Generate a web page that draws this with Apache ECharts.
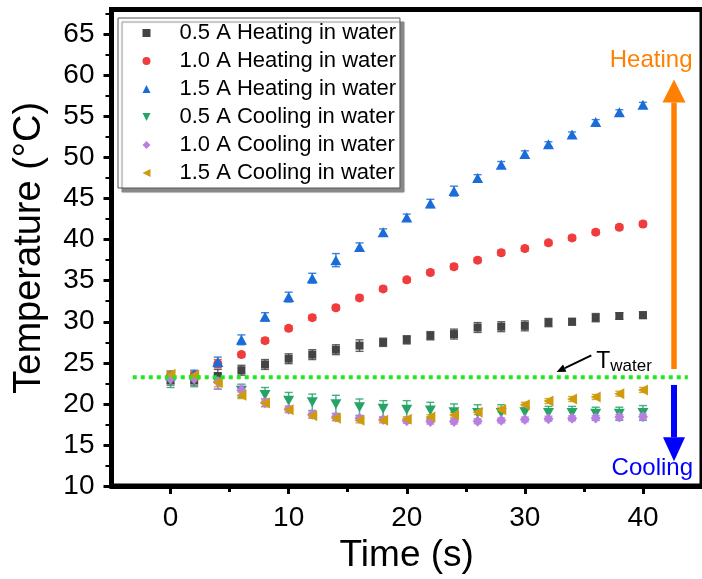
<!DOCTYPE html>
<html><head><meta charset="utf-8">
<script src="https://cdn.jsdelivr.net/npm/echarts@6/dist/echarts.min.js"></script>
<style>html,body{margin:0;padding:0;background:#fff}#c{width:702px;height:579px}</style>
</head><body><div id="c"></div>
<script>
// ---------- data ----------
const time = [0,2,4,6,8,10,12,14,16,18,20,22,24,26,28,30,32,34,36,38,40];
const seriesNames = ['0.5 A Heating in water','1.0 A Heating in water','1.5 A Heating in water',
                     '0.5 A Cooling in water','1.0 A Cooling in water','1.5 A Cooling in water'];
const heat05 = [22.9,22.9,23.4,24.1,24.8,25.5,26.0,26.6,27.1,27.5,27.8,28.3,28.5,29.3,29.4,29.5,29.9,30.0,30.5,30.7,30.8];
const heat10 = [23.4,23.5,24.9,26.0,27.7,29.2,30.5,31.7,32.9,34.0,35.1,36.0,36.7,37.5,38.4,38.9,39.6,40.2,40.9,41.5,41.9];
const heat15 = [23.5,23.6,25.1,27.8,30.6,33.0,35.3,37.5,39.1,40.9,42.7,44.4,45.9,47.5,49.1,50.4,51.6,52.8,54.3,55.5,56.4];
const cool05 = [22.8,22.9,22.7,21.6,21.1,20.4,20.2,19.95,19.6,19.4,19.3,19.2,19.0,18.9,18.9,19.0,18.9,18.9,18.8,18.8,18.9];
const cool10 = [23.05,23.05,22.7,21.65,20.15,19.35,18.75,18.4,18.25,18.1,17.95,17.85,17.85,17.9,18.0,18.1,18.2,18.25,18.3,18.4,18.45];
const cool15 = [23.6,23.5,22.6,21.05,20.1,19.3,18.55,18.25,18.0,18.0,18.15,18.4,18.65,19.0,19.3,19.9,20.35,20.6,20.85,21.25,21.7];
const err05h = [0.6,0.6,0.8,0.6,0.6,0.6,0.6,0.6,0.7,0.5,0.5,0.5,0.6,0.6,0.6,0.6,0.5,0.4,0.5,0.4,0.4];
const err10h = [0.4,0.4,0.5,0.3,0.3,0.3,0.3,0.3,0.3,0.3,0.3,0.3,0.3,0.3,0.3,0.3,0.3,0.3,0.3,0.3,0.3];
const err15h = [0.5,0.5,0.6,0.6,0.5,0.6,0.6,0.8,0.5,0.4,0.4,0.5,0.6,0.4,0.4,0.4,0.3,0.3,0.3,0.3,0.3];
const err05c = [0.8,0.8,0.9,0.8,0.9,1.0,1.0,1.1,1.0,1.0,1.1,1.0,1.0,1.0,1.0,0.9,0.8,0.8,0.8,0.8,0.9];
const err10c = [0.6,0.6,0.9,0.7,0.5,0.4,0.4,0.4,0.3,0.3,0.3,0.3,0.3,0.3,0.3,0.3,0.3,0.3,0.3,0.3,0.3];
const err15c = [0.4,0.4,0.5,0.4,0.4,0.3,0.3,0.3,0.3,0.3,0.3,0.3,0.3,0.3,0.3,0.3,0.3,0.3,0.3,0.3,0.3];
const xTickValues = [0,10,20,30,40];
const xMinorValues = [5,15,25,35];
const yTickValues = [10,15,20,25,30,35,40,45,50,55,60,65];
const yMinorValues = [12.5,17.5,22.5,27.5,32.5,37.5,42.5,47.5,52.5,57.5,62.5,67.5];
const tWater = 23.25;
const tWaterSpan = [-3.2, 43.8];
const arrowX = 42.63;
const heatingArrow = [24.24, 59.49];
const coolingArrow = [22.31, 13.02];
const pointerFrom = [35.63, 25.9];
const pointerTo = [32.69, 23.88];
const heatingLabel = 'Heating';
const coolingLabel = 'Cooling';
const tLabel = 'T';
const tSubLabel = 'water';

// ---------- styling ----------
const FONT = '"Liberation Sans", Arial, sans-serif';
const colors = ['#444444','#f03c3c','#1a6cd8','#26a366','#b87fe0','#cf9a0c'];
const symbols = ['rect','circle','triangle','triangle','diamond','triangle'];
const legendIcons = ['rect','circle','triangle','path://M0,0 L10,0 L5,10 Z','diamond','path://M10,0 L10,10 L0,5 Z'];
const rotates = [0,0,0,180,0,90];
const sizes = [8,9,[11,10],[11,10],[10,11],[11,10]];
const values = [heat05,heat10,heat15,cool05,cool10,cool15];
const errs = [err05h,err10h,err15h,err05c,err10c,err15c];

function errSeries(idx){
  const color = colors[idx];
  return {
    type:'custom', name:'err'+idx, xAxisIndex:0, yAxisIndex:0, z:2, silent:true,
    data: time.map((t,i)=>[t, values[idx][i], errs[idx][i]]),
    encode:{x:0,y:1},
    renderItem(params, api){
      const x=api.value(0), y=api.value(1), e=api.value(2);
      const a=api.coord([x,y+e]), b=api.coord([x,y-e]);
      const hw=4, st={stroke:color, lineWidth:1.4, opacity:0.85};
      return {type:'group', children:[
        {type:'line', shape:{x1:a[0],y1:a[1],x2:b[0],y2:b[1]}, style:st},
        {type:'line', shape:{x1:a[0]-hw,y1:a[1],x2:a[0]+hw,y2:a[1]}, style:st},
        {type:'line', shape:{x1:b[0]-hw,y1:b[1],x2:b[0]+hw,y2:b[1]}, style:st}
      ]};
    }
  };
}
function scatterSeries(idx){
  return {
    type:'scatter', name:seriesNames[idx], xAxisIndex:0, yAxisIndex:0, z:3,
    symbol:symbols[idx], symbolRotate:rotates[idx], symbolSize:sizes[idx],
    itemStyle:{color:colors[idx], opacity:1},
    data: time.map((t,i)=>[t, values[idx][i]])
  };
}
function arrowShapes(tail, tip, shaftW, headW, headL, color){
  const dx=tip[0]-tail[0], dy=tip[1]-tail[1], L=Math.hypot(dx,dy);
  const ux=dx/L, uy=dy/L, px=-uy, py=ux;
  const bx=tip[0]-ux*headL, by=tip[1]-uy*headL;
  const sw=shaftW/2, hw=headW/2;
  return [
    {type:'polygon', shape:{points:[[tail[0]+px*sw,tail[1]+py*sw],[bx+px*sw,by+py*sw],[bx-px*sw,by-py*sw],[tail[0]-px*sw,tail[1]-py*sw]]}, style:{fill:color}},
    {type:'polygon', shape:{points:[[tip[0],tip[1]],[bx+px*hw,by+py*hw],[bx-px*hw,by-py*hw]]}, style:{fill:color}}
  ];
}
const annotationSeries = {
  type:'custom', name:'annotations', xAxisIndex:0, yAxisIndex:0, z:5, silent:true,
  data:[[arrowX, tWater]], encode:{x:0,y:1},
  renderItem(params, api){
    const hT=api.coord([arrowX,heatingArrow[0]]), hP=api.coord([arrowX,heatingArrow[1]]);
    const cT=api.coord([arrowX,coolingArrow[0]]), cP=api.coord([arrowX,coolingArrow[1]]);
    const pF=api.coord(pointerFrom), pT=api.coord(pointerTo);
    const kids = [].concat(
      arrowShapes(hT,hP,5.5,23,23,'#ff8000'),
      arrowShapes(cT,cP,6,22,24,'#0000ff'),
      arrowShapes(pF,pT,2,8,9,'#000000'),
      [
        {type:'text', x:hP[0]+18.5, y:hP[1]-19, style:{text:heatingLabel, fill:'#ff8000', font:'24px '+FONT, align:'right', verticalAlign:'middle'}},
        {type:'text', x:cP[0]+19, y:cP[1]+7, style:{text:coolingLabel, fill:'#0000ff', font:'24px '+FONT, align:'right', verticalAlign:'middle'}},
        {type:'text', x:pF[0]+5, y:pF[1]-5, style:{text:tLabel, fill:'#000', font:'23px '+FONT, align:'left', verticalAlign:'alphabetic'}},
        {type:'text', x:pF[0]+19, y:pF[1]+2.5, style:{text:tSubLabel, fill:'#000', font:'17px '+FONT, align:'left', verticalAlign:'alphabetic'}}
      ]);
    return {type:'group', children:kids};
  }
};
const waterLine = {
  type:'line', name:'Twater', xAxisIndex:0, yAxisIndex:0, z:4, silent:true,
  symbol:'none', data:[[tWaterSpan[0], tWater],[tWaterSpan[1], tWater]],
  lineStyle:{color:'#22e622', width:4, type:[4,4]}
};

const series = [];
for (let i=0;i<6;i++) series.push(errSeries(i));
for (let i=0;i<6;i++) series.push(scatterSeries(i));
series.push(waterLine, annotationSeries);

const axisTextStyle = {fontFamily:FONT, fontSize:28, color:'#000'};
const chart = echarts.init(document.getElementById('c'), null, {renderer:'canvas'});
chart.setOption({
  animation:false,
  backgroundColor:'#fff',
  grid:{left:111.5, right:-4.5, top:9.5, bottom:89, show:true, borderColor:'#000', borderWidth:5, backgroundColor:'transparent'},
  legend:{
    data:seriesNames.map((n,i)=>({name:n, icon:legendIcons[i]})), orient:'vertical', left:118, top:18,
    itemWidth:8, itemHeight:8, itemGap:6, padding:[4,4,4,24.5],
    symbolKeepAspect:true, symbolRotate:0,
    backgroundColor:'#fff', borderColor:'#555', borderWidth:1,
    shadowColor:'#888', shadowBlur:1, shadowOffsetX:4, shadowOffsetY:4,
    textStyle:{fontFamily:FONT, fontSize:22, color:'#000', lineHeight:22, padding:[0,0,0,24]},
    selectedMode:false, z:10
  },
  xAxis:[{
    type:'value', min:-5, max:45, position:'bottom',
    name:'Time (s)', nameLocation:'middle', nameGap:46,
    nameTextStyle:{fontFamily:FONT, fontSize:37, color:'#000'},
    axisLine:{show:true, onZero:false, lineStyle:{color:'#000', width:5}},
    axisTick:{show:true, inside:false, length:8, lineStyle:{color:'#000', width:3}, customValues:xTickValues},
    axisLabel:Object.assign({margin:18, customValues:xTickValues}, axisTextStyle),
    splitLine:{show:false}
  },{
    type:'value', min:-5, max:45, position:'bottom',
    axisLine:{show:false, onZero:false}, axisLabel:{show:false}, splitLine:{show:false},
    axisTick:{show:true, inside:false, length:6, lineStyle:{color:'#000', width:3}, customValues:xMinorValues}
  }],
  yAxis:[{
    type:'value', min:10, max:68, interval:5, position:'left',
    name:'Temperature (°C)', nameLocation:'middle', nameGap:63,
    nameTextStyle:{fontFamily:FONT, fontSize:38, color:'#000'},
    axisLine:{show:true, onZero:false, lineStyle:{color:'#000', width:5}},
    axisTick:{show:true, inside:false, length:8, lineStyle:{color:'#000', width:3}, customValues:yTickValues},
    axisLabel:Object.assign({margin:17, customValues:yTickValues}, axisTextStyle),
    splitLine:{show:false}
  },{
    type:'value', min:10, max:68, interval:5, position:'left',
    axisLine:{show:false, onZero:false}, axisLabel:{show:false}, splitLine:{show:false},
    axisTick:{show:true, inside:false, length:6, lineStyle:{color:'#000', width:2}, customValues:yMinorValues}
  }],
  series: series
});
</script></body></html>
